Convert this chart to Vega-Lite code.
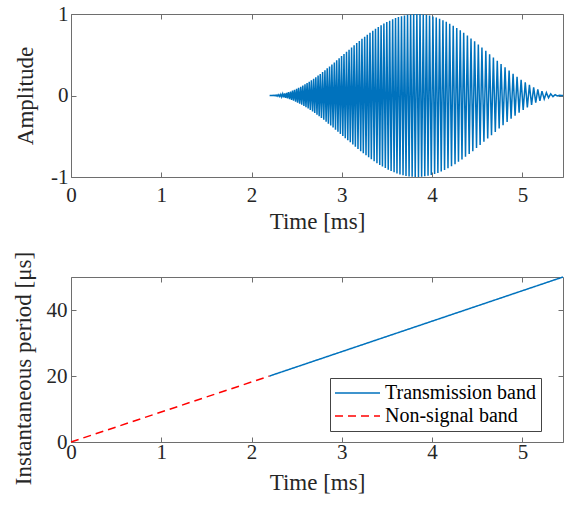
{
"$schema": "https://vega.github.io/schema/vega-lite/v6.json",
"background": "white",
"padding": {"left": 11, "top": 3, "right": 2, "bottom": 2},
"spacing": 100,
"bounds": "flush",
"config": {
  "font": "Liberation Serif",
  "view": {"stroke": null},
  "axis": {"grid": false, "domainColor": "#6e6e6e", "domainWidth": 1, "tickColor": "#6e6e6e", "tickSize": -5, "labelFont": "Liberation Serif", "labelFontSize": 21, "labelColor": "#262626", "labelFlush": false, "labelOverlap": false, "titleFont": "Liberation Serif", "titleFontSize": 23, "titleFontWeight": "normal", "titleColor": "#262626"},
  "legend": {"orient": "none", "legendX": 259, "legendY": 364, "title": null, "strokeColor": "#444444", "fillColor": "white", "padding": 5, "labelFont": "Liberation Serif", "labelFontSize": 20, "labelColor": "#000000", "symbolType": "M-2,0H7", "symbolSize": 100, "symbolStrokeWidth": 1.5, "labelOffset": 30, "rowPadding": 3, "cornerRadius": 0}
},
"vconcat": [
{
  "width": 492, "height": 163,
  "layer": [
    {
      "data": {"values": [
{"t":2.200,"y":0},{"t":2.210,"y":-0.001},{"t":2.220,"y":0.001},{"t":2.231,"y":-0.001},{"t":2.241,"y":0.002},{"t":2.251,"y":-0.002},{"t":2.261,"y":0.004},{"t":2.272,"y":-0.005},{"t":2.282,"y":0.007},{"t":2.292,"y":-0.008},
{"t":2.302,"y":0.010},{"t":2.313,"y":-0.012},{"t":2.324,"y":0.015},{"t":2.334,"y":-0.017},{"t":2.345,"y":0.020},{"t":2.356,"y":-0.023},{"t":2.366,"y":0.026},{"t":2.377,"y":-0.029},{"t":2.388,"y":0.033},{"t":2.398,"y":-0.036},
{"t":2.409,"y":0.040},{"t":2.421,"y":-0.045},{"t":2.432,"y":0.049},{"t":2.443,"y":-0.054},{"t":2.454,"y":0.059},{"t":2.465,"y":-0.064},{"t":2.476,"y":0.070},{"t":2.488,"y":-0.076},{"t":2.499,"y":0.082},{"t":2.510,"y":-0.088},
{"t":2.521,"y":0.094},{"t":2.533,"y":-0.100},{"t":2.545,"y":0.107},{"t":2.556,"y":-0.114},{"t":2.568,"y":0.122},{"t":2.580,"y":-0.129},{"t":2.592,"y":0.137},{"t":2.603,"y":-0.144},{"t":2.615,"y":0.152},{"t":2.627,"y":-0.160},
{"t":2.639,"y":0.168},{"t":2.651,"y":-0.177},{"t":2.663,"y":0.186},{"t":2.676,"y":-0.196},{"t":2.688,"y":0.205},{"t":2.700,"y":-0.214},{"t":2.712,"y":0.224},{"t":2.725,"y":-0.235},{"t":2.737,"y":0.245},{"t":2.749,"y":-0.255},
{"t":2.761,"y":0.265},{"t":2.774,"y":-0.276},{"t":2.787,"y":0.287},{"t":2.800,"y":-0.298},{"t":2.813,"y":0.310},{"t":2.826,"y":-0.322},{"t":2.838,"y":0.333},{"t":2.851,"y":-0.345},{"t":2.864,"y":0.357},{"t":2.877,"y":-0.369},
{"t":2.890,"y":0.381},{"t":2.903,"y":-0.393},{"t":2.917,"y":0.406},{"t":2.930,"y":-0.419},{"t":2.943,"y":0.431},{"t":2.957,"y":-0.445},{"t":2.970,"y":0.457},{"t":2.984,"y":-0.471},{"t":2.997,"y":0.483},{"t":3.011,"y":-0.497},
{"t":3.024,"y":0.509},{"t":3.038,"y":-0.523},{"t":3.052,"y":0.536},{"t":3.066,"y":-0.549},{"t":3.080,"y":0.562},{"t":3.094,"y":-0.575},{"t":3.108,"y":0.589},{"t":3.122,"y":-0.602},{"t":3.136,"y":0.616},{"t":3.150,"y":-0.629},
{"t":3.165,"y":0.643},{"t":3.179,"y":-0.656},{"t":3.194,"y":0.669},{"t":3.209,"y":-0.683},{"t":3.223,"y":0.695},{"t":3.238,"y":-0.708},{"t":3.253,"y":0.722},{"t":3.268,"y":-0.734},{"t":3.282,"y":0.746},{"t":3.297,"y":-0.759},
{"t":3.312,"y":0.771},{"t":3.327,"y":-0.783},{"t":3.343,"y":0.795},{"t":3.358,"y":-0.807},{"t":3.373,"y":0.818},{"t":3.389,"y":-0.830},{"t":3.404,"y":0.841},{"t":3.420,"y":-0.852},{"t":3.435,"y":0.862},{"t":3.450,"y":-0.872},
{"t":3.466,"y":0.882},{"t":3.482,"y":-0.891},{"t":3.498,"y":0.901},{"t":3.514,"y":-0.910},{"t":3.530,"y":0.918},{"t":3.546,"y":-0.927},{"t":3.563,"y":0.935},{"t":3.579,"y":-0.942},{"t":3.595,"y":0.950},{"t":3.611,"y":-0.956},
{"t":3.627,"y":0.962},{"t":3.644,"y":-0.968},{"t":3.661,"y":0.973},{"t":3.678,"y":-0.978},{"t":3.694,"y":0.982},{"t":3.711,"y":-0.987},{"t":3.728,"y":0.990},{"t":3.745,"y":-0.993},{"t":3.762,"y":0.995},{"t":3.779,"y":-0.997},
{"t":3.796,"y":0.999},{"t":3.813,"y":-1.0},{"t":3.831,"y":1.0},{"t":3.849,"y":-1.0},{"t":3.866,"y":0.999},{"t":3.884,"y":-0.997},{"t":3.902,"y":0.995},{"t":3.919,"y":-0.992},{"t":3.937,"y":0.989},{"t":3.955,"y":-0.986},
{"t":3.972,"y":0.981},{"t":3.991,"y":-0.976},{"t":4.009,"y":0.970},{"t":4.028,"y":-0.963},{"t":4.046,"y":0.957},{"t":4.064,"y":-0.950},{"t":4.083,"y":0.941},{"t":4.101,"y":-0.933},{"t":4.120,"y":0.924},{"t":4.138,"y":-0.914},
{"t":4.157,"y":0.904},{"t":4.176,"y":-0.892},{"t":4.195,"y":0.881},{"t":4.215,"y":-0.868},{"t":4.234,"y":0.856},{"t":4.254,"y":-0.842},{"t":4.273,"y":0.828},{"t":4.292,"y":-0.814},{"t":4.312,"y":0.800},{"t":4.331,"y":-0.784},
{"t":4.350,"y":0.769},{"t":4.370,"y":-0.752},{"t":4.391,"y":0.735},{"t":4.411,"y":-0.718},{"t":4.431,"y":0.700},{"t":4.451,"y":-0.683},{"t":4.471,"y":0.665},{"t":4.492,"y":-0.645},{"t":4.512,"y":0.627},{"t":4.532,"y":-0.608},
{"t":4.552,"y":0.589},{"t":4.574,"y":-0.568},{"t":4.595,"y":0.548},{"t":4.616,"y":-0.528},{"t":4.637,"y":0.507},{"t":4.658,"y":-0.487},{"t":4.679,"y":0.467},{"t":4.700,"y":-0.447},{"t":4.722,"y":0.426},{"t":4.743,"y":-0.406},
{"t":4.764,"y":0.387},{"t":4.786,"y":-0.366},{"t":4.808,"y":0.346},{"t":4.831,"y":-0.325},{"t":4.853,"y":0.305},{"t":4.875,"y":-0.286},{"t":4.897,"y":0.267},{"t":4.919,"y":-0.248},{"t":4.941,"y":0.229},{"t":4.964,"y":-0.210},
{"t":4.986,"y":0.194},{"t":5.009,"y":-0.177},{"t":5.032,"y":0.161},{"t":5.055,"y":-0.145},{"t":5.078,"y":0.130},{"t":5.102,"y":-0.115},{"t":5.125,"y":0.101},{"t":5.148,"y":-0.088},{"t":5.171,"y":0.076},{"t":5.194,"y":-0.065},
{"t":5.217,"y":0.054},{"t":5.242,"y":-0.044},{"t":5.266,"y":0.035},{"t":5.290,"y":-0.027},{"t":5.314,"y":0.020},{"t":5.339,"y":-0.014},{"t":5.363,"y":0.009},{"t":5.387,"y":-0.005},{"t":5.411,"y":0.002},{"t":5.436,"y":-0.001},{"t":5.450,"y":0}
      ]},
      "mark": {"type": "line", "color": "#0072BD", "strokeWidth": 1.5},
      "encoding": {
        "x": {"field": "t", "type": "quantitative", "scale": {"domain": [0, 5.45], "nice": false}, "axis": {"orient": "bottom", "values": [0,1,2,3,4,5], "labelPadding": 12, "title": "Time [ms]", "titleY": 33}},
        "y": {"field": "y", "type": "quantitative", "scale": {"domain": [-1, 1], "nice": false}, "axis": {"orient": "left", "values": [-1,0,1], "labelPadding": 8, "labelExpr": "datum.value < 0 ? '-1' : (datum.value > 0 ? '1' : '0')", "title": "Amplitude", "titleX": -34, "titleY": 81.5}}
      }
    },
    {
      "data": {"values": [{"t": 0, "y": 0}]},
      "mark": {"type": "point", "opacity": 0},
      "encoding": {
        "x": {"field": "t", "type": "quantitative", "axis": {"orient": "top", "values": [0,1,2,3,4,5], "labels": false, "title": null}},
        "y": {"field": "y", "type": "quantitative", "axis": {"orient": "right", "values": [-1,0,1], "labels": false, "title": null}}
      }
    }
  ],
  "resolve": {"axis": {"x": "independent", "y": "independent"}}
},
{
  "width": 492, "height": 165,
  "layer": [
    {
      "data": {"values": [
        {"t": 0, "p": 0, "band": "Non-signal band"},
        {"t": 2.2, "p": 20, "band": "Non-signal band"},
        {"t": 2.2, "p": 20, "band": "Transmission band"},
        {"t": 5.45, "p": 50, "band": "Transmission band"}
      ]},
      "mark": {"type": "line", "strokeWidth": 1.5},
      "encoding": {
        "x": {"field": "t", "type": "quantitative", "scale": {"domain": [0, 5.45], "nice": false}, "axis": {"orient": "bottom", "values": [0,1,2,3,4,5], "labelPadding": 4, "title": "Time [ms]", "titleY": 29}},
        "y": {"field": "p", "type": "quantitative", "scale": {"domain": [0, 50], "nice": false}, "axis": {"orient": "left", "values": [0,20,40], "labelPadding": 9, "title": "Instantaneous period [μs]", "titleX": -36, "titleY": 91}},
        "color": {"field": "band", "type": "nominal", "scale": {"domain": ["Transmission band", "Non-signal band"], "range": ["#0072BD", "#FF0000"]}},
        "strokeDash": {"field": "band", "type": "nominal", "scale": {"domain": ["Transmission band", "Non-signal band"], "range": [[1, 0], [8, 5]]}}
      }
    },
    {
      "data": {"values": [{"t": 0, "p": 0}]},
      "mark": {"type": "point", "opacity": 0},
      "encoding": {
        "x": {"field": "t", "type": "quantitative", "axis": {"orient": "top", "values": [0,1,2,3,4,5], "labels": false, "title": null}},
        "y": {"field": "p", "type": "quantitative", "axis": {"orient": "right", "values": [0,20,40], "labels": false, "title": null}}
      }
    }
  ],
  "resolve": {"axis": {"x": "independent", "y": "independent"}}
}
]
}
